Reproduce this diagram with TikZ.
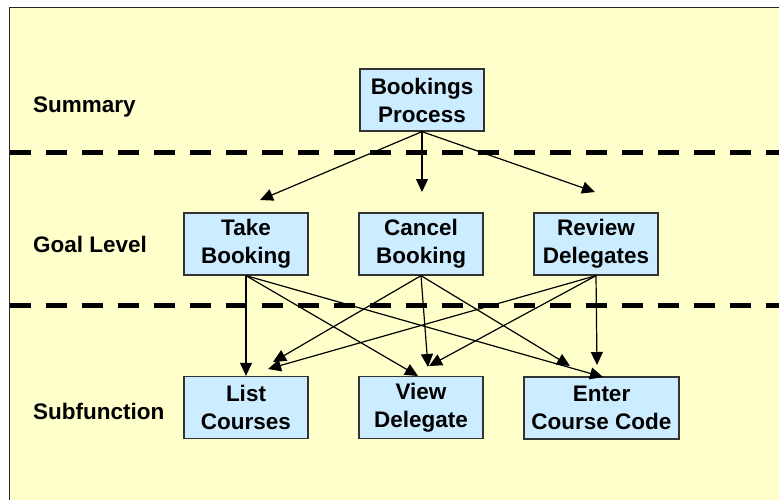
\documentclass[tikz,border=0pt]{standalone}
\usepackage{fontspec}
\setmainfont{Liberation Sans}
\usetikzlibrary{arrows.meta}
\definecolor{paper}{HTML}{FFFFCC}
\definecolor{boxfill}{HTML}{CCECFF}
\definecolor{edge}{HTML}{333333}
\begin{document}
\begin{tikzpicture}[x=1pt,y=-1pt,
  usecase/.style={draw=edge, line width=1.3pt, fill=boxfill, minimum width=124pt,
    minimum height=62pt, inner sep=0pt, align=center,
    font=\fontsize{22.5}{28}\selectfont\bfseries},
  level/.style={anchor=base west, inner sep=0pt, font=\fontsize{22.5}{28}\selectfont\bfseries},
  link/.style={line width=1.2pt, -{Triangle[length=13pt,width=12pt]}},
  divider/.style={line width=5pt, dash pattern=on 21pt off 15pt}]
\useasboundingbox (0,0) rectangle (779,499);
\fill[white] (0,0) rectangle (779,499);
\filldraw[fill=paper, draw=black!85, line width=1.5pt] (9.5,7.5) rectangle (800,520);

% level dividers
\draw[divider] (10,152) -- (779,152);
\draw[divider] (10,305.5) -- (779,305.5);

% level names
\node[level] (lsum) at (33,112) {Summary};
\node[level] (lgoal) at (33,252) {Goal Level};
\node[level] (lsub) at (33,419) {Subfunction};

% use cases
\node[usecase] (bp) at (422,100) {Bookings\\Process};
\node[usecase] (tb) at (246,244) {Take\\Booking};
\node[usecase] (cb) at (421,244) {Cancel\\Booking};
\node[usecase] (rd) at (596,244) {Review\\Delegates};
\node[usecase] (lc) at (246,407.5) {List\\Courses};
\node[usecase] (vd) at (421,407.5) {View\\Delegate};
\node[usecase, minimum width=155pt] (ec) at (601.5,408) {Enter\\Course Code};

% arrow tips that stop short of their targets
\coordinate (bp-tb) at (260,200);
\coordinate (bp-cb) at (422,192);
\coordinate (bp-rd) at (595,192);
\coordinate (tb-vd) at (418,376);
\coordinate (tb-ec) at (603,377);
\coordinate (cb-lc) at (273,362);
\coordinate (cb-vd) at (428,367);
\coordinate (cb-ec) at (570,366);
\coordinate (rd-lc) at (268,369);
\coordinate (rd-vd) at (429,366);
\coordinate (rd-ec) at (597,365);

% summary to goal level
\draw[link] (bp.south) -- (bp-tb);
\draw[link] (bp.south) -- (bp-cb);
\draw[link] (bp.south) -- (bp-rd);

% goal level to subfunctions
\draw[link] (tb.south) -- (lc.north);
\draw[link] (tb.south) -- (tb-vd);
\draw[link] (tb.south) -- (tb-ec);
\draw[link] (cb.south) -- (cb-lc);
\draw[link] (cb.south) -- (cb-vd);
\draw[link] (cb.south) -- (cb-ec);
\draw[link] (rd.south) -- (rd-lc);
\draw[link] (rd.south) -- (rd-vd);
\draw[link] (rd.south) -- (rd-ec);
\end{tikzpicture}
\end{document}
